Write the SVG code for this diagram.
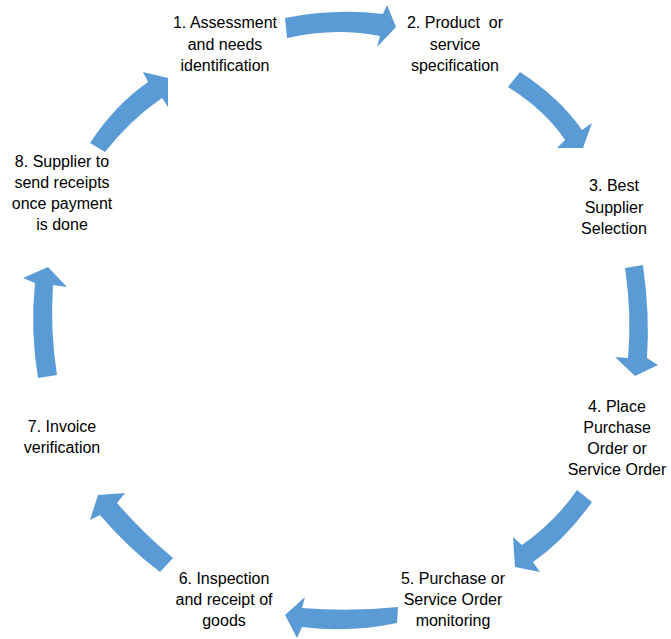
<svg xmlns="http://www.w3.org/2000/svg" width="671" height="639" viewBox="0 0 671 639">
<style>
.a{fill:#5B9BD5;stroke:none}
text{font-family:"Liberation Sans",Arial,sans-serif;font-size:16px;fill:#000;text-anchor:middle}
</style>
<rect width="671" height="639" fill="#fff"/>
<g id="connectors">
<path class="a" d="M285,18 Q335,8 383,14 L387,5 L396,27 L377,47 L380,36 Q335,27 287,38 Z"/>
<path class="a" d="M520,72 Q560,98 582,130 L592,123 L583,148 L557,148 L565,140 Q545,110 508,87 Z"/>
<path class="a" d="M625,268 L643,265 Q650,315 647,358 L658,365 L635,376 L615,357 L628,358 Q632,315 625,268 Z"/>
<path class="a" d="M577,490 L592,502 Q565,540 533,562 L540,572 L515,567 L513,537 L522,545 Q555,522 577,490 Z"/>
<path class="a" d="M398,607 L397,623 Q350,633 302,627 L297,638 L285,615 L305,597 L302,608 Q350,612 398,607 Z"/>
<path class="a" d="M160,572 L173,558 Q143,533 117,503 L125,493 L98,495 L90,520 L100,515 Q128,548 160,572 Z"/>
<path class="a" d="M38,378 L57,375 Q50,330 53,285 L67,287 L48,267 L23,278 L35,283 Q30,330 38,378 Z"/>
<path class="a" d="M90,143 L105,152 Q130,120 162,98 L168,107 L168,78 L143,72 L148,82 Q115,105 90,143 Z"/>
</g>
<g id="n1"><text x="225" y="28">1. Assessment</text><text x="225" y="49.5">and needs</text><text x="225" y="71">identification</text></g>
<g id="n2"><text x="455" y="28" xml:space="preserve">2. Product  or</text><text x="455" y="49.5">service</text><text x="455" y="71">specification</text></g>
<g id="n3"><text x="614" y="191">3. Best</text><text x="614" y="212.5">Supplier</text><text x="614" y="234">Selection</text></g>
<g id="n4"><text x="617" y="412">4. Place</text><text x="617" y="433">Purchase</text><text x="617" y="454">Order or</text><text x="617" y="475">Service Order</text></g>
<g id="n5"><text x="453" y="584">5. Purchase or</text><text x="453" y="605">Service Order</text><text x="453" y="626">monitoring</text></g>
<g id="n6"><text x="224" y="584">6. Inspection</text><text x="224" y="605">and receipt of</text><text x="224" y="626">goods</text></g>
<g id="n7"><text x="62" y="432">7. Invoice</text><text x="62" y="453">verification</text></g>
<g id="n8"><text x="62" y="167">8. Supplier to</text><text x="62" y="188">send receipts</text><text x="62" y="209">once payment</text><text x="62" y="230">is done</text></g>
</svg>
